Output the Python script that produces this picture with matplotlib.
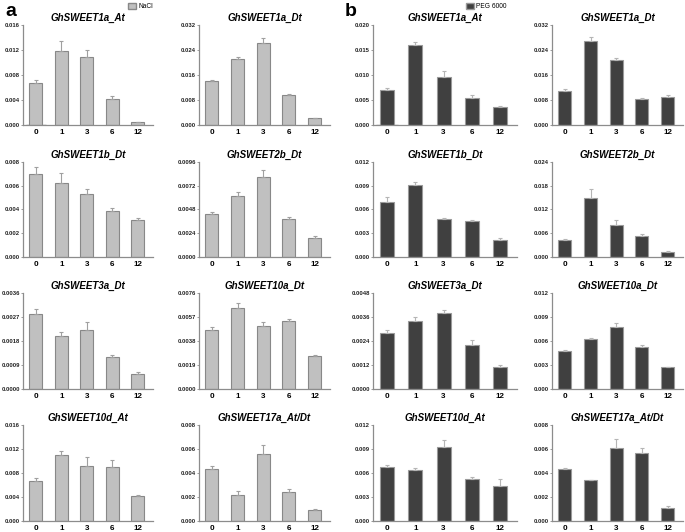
import matplotlib
matplotlib.use("Agg")
import matplotlib.pyplot as plt
import numpy as np

plt.rcParams['font.family'] = ['Liberation Sans', 'DejaVu Sans']

# time points (h)
times = ["0", "1", "3", "6", "12"]

genes = ["GhSWEET1a_At", "GhSWEET1a_Dt", "GhSWEET1b_Dt", "GhSWEET2b_Dt",
         "GhSWEET3a_Dt", "GhSWEET10a_Dt", "GhSWEET10d_At", "GhSWEET17a_At/Dt"]

# NaCl treatment (panel a)
nacl_mean = [
    [0.0067, 0.0119, 0.0109, 0.0042, 0.00043],
    [0.0140, 0.0211, 0.0262, 0.0097, 0.0021],
    [0.0070, 0.0062, 0.0053, 0.0039, 0.0031],
    [0.0043, 0.0062, 0.0081, 0.0038, 0.0019],
    [0.0028, 0.0020, 0.0022, 0.0012, 0.00058],
    [0.0047, 0.0064, 0.0050, 0.0054, 0.0026],
    [0.0067, 0.0110, 0.0091, 0.0090, 0.0042],
    [0.0043, 0.0022, 0.0056, 0.0024, 0.00092],
]
nacl_err = [
    [0.0005, 0.0016, 0.0011, 0.0005, 0.0001],
    [0.0003, 0.0007, 0.0018, 0.0001, 0.0001],
    [0.0006, 0.0009, 0.0004, 0.0002, 0.0002],
    [0.0002, 0.0004, 0.0007, 0.0002, 0.0002],
    [0.0002, 0.00012, 0.0003, 0.00006, 0.00007],
    [0.00024, 0.0004, 0.0003, 0.00016, 0.00013],
    [0.0004, 0.0007, 0.0016, 0.0012, 0.0001],
    [0.0003, 0.0003, 0.0007, 0.0003, 0.0001],
]

# PEG 6000 treatment (panel b)
peg_mean = [
    [0.0070, 0.0160, 0.0097, 0.0055, 0.0037],
    [0.0109, 0.0269, 0.0209, 0.0082, 0.0091],
    [0.0070, 0.0091, 0.0048, 0.0045, 0.0022],
    [0.0043, 0.0150, 0.0082, 0.0054, 0.0013],
    [0.0028, 0.0034, 0.0038, 0.0022, 0.0011],
    [0.0047, 0.0062, 0.0077, 0.0053, 0.0027],
    [0.0067, 0.0064, 0.0093, 0.0052, 0.0044],
    [0.0043, 0.0034, 0.0061, 0.0057, 0.0011],
]
peg_err = [
    [0.0005, 0.0007, 0.0011, 0.0005, 0.0001],
    [0.0005, 0.0012, 0.0004, 0.0004, 0.0006],
    [0.0006, 0.0004, 0.0001, 0.0002, 0.0002],
    [0.0003, 0.0021, 0.0011, 0.0005, 0.0001],
    [0.00016, 0.00022, 0.00017, 0.00025, 0.00009],
    [0.0002, 0.0002, 0.0006, 0.0002, 0.0001],
    [0.0003, 0.0002, 0.0008, 0.0003, 0.0008],
    [0.0001, 0.00004, 0.0007, 0.0004, 0.00014],
]

# y limits and tick label formats for each gene panel
nacl_ymax = [0.016, 0.032, 0.008, 0.0096, 0.0036, 0.0076, 0.016, 0.008]
peg_ymax = [0.020, 0.032, 0.012, 0.024, 0.0048, 0.012, 0.012, 0.008]
nacl_fmt = ["%.3f", "%.3f", "%.3f", "%.4f", "%.4f", "%.4f", "%.3f", "%.3f"]
peg_fmt = ["%.3f", "%.3f", "%.3f", "%.3f", "%.4f", "%.3f", "%.3f", "%.3f"]

W, H = 685, 532
fig = plt.figure(figsize=(W / 100, H / 100), dpi=100)

col_left = [23, 199, 373, 552]
col_right = [153, 330, 517, 683]
row_top = [25, 162, 293, 425]
row_bot = [125, 257, 389, 521]

light = "#c0c0c0"
dark = "#404040"
spine_col = "#8c8c8c"


def draw_panel(ax, means, errs, ymax, fmt, title, color, edge, ecolor):
    x = np.arange(len(times))
    ax.bar(x, means, width=0.5, color=color, edgecolor=edge, linewidth=0.8, zorder=2)
    ax.errorbar(x, means, yerr=[np.zeros(len(errs)), errs], fmt="none",
                ecolor=ecolor, elinewidth=0.8, capsize=1.5, capthick=0.8, zorder=3)
    ax.set_xlim(-0.5, len(times) - 0.4)
    ax.set_ylim(0, ymax)
    ax.set_yticks(np.linspace(0, ymax, 5))
    ax.set_yticklabels([fmt % v for v in np.linspace(0, ymax, 5)],
                       fontsize=4.2, fontweight="bold", color="#222222")
    ax.set_xticks(x)
    ax.set_xticklabels(times, fontsize=5.8, fontweight="bold")
    ax.tick_params(axis="x", length=0, pad=3)
    ax.tick_params(axis="y", length=1.5, width=0.6, color=spine_col, pad=0.8)
    for s in ["top", "right"]:
        ax.spines[s].set_visible(False)
    for s in ["left", "bottom"]:
        ax.spines[s].set_color(spine_col)
        ax.spines[s].set_linewidth(0.9)
    ax.set_title(title, fontsize=7, fontweight="bold", style="italic", pad=3)


for g in range(8):
    r = g // 2
    c = g % 2
    for half, (means, errs, ymaxs, fmts, color, edge, ecol) in enumerate([
            (nacl_mean, nacl_err, nacl_ymax, nacl_fmt, light, "#888888", "#a0a0a0"),
            (peg_mean, peg_err, peg_ymax, peg_fmt, dark, "#9a9a9a", "#b5b5b5")]):
        ci = half * 2 + c
        l, rr = col_left[ci], col_right[ci]
        t, b = row_top[r], row_bot[r]
        ax = fig.add_axes([l / W, 1 - b / H, (rr - l) / W, (b - t) / H])
        draw_panel(ax, means[g], errs[g], ymaxs[g], fmts[g], genes[g], color, edge, ecol)
        if g == 0:
            lab = ax.bar([0], [0], color=color, edgecolor=edge,
                         label="NaCl" if half == 0 else "PEG 6000")
            anchor = (1.0, 1.22) if half == 0 else (0.93, 1.22)
            ax.legend(handles=[lab], loc="upper right", bbox_to_anchor=anchor,
                      frameon=False, fontsize=4.8, handlelength=1.3, handleheight=0.9,
                      handletextpad=0.3, borderaxespad=0, borderpad=0)

fig.text(5 / W, 1 - 12 / H, "a", fontsize=14, fontweight="bold", va="center")
fig.text(345 / W, 1 - 12 / H, "b", fontsize=14, fontweight="bold", va="center")

fig.savefig("out.png", dpi=100)
